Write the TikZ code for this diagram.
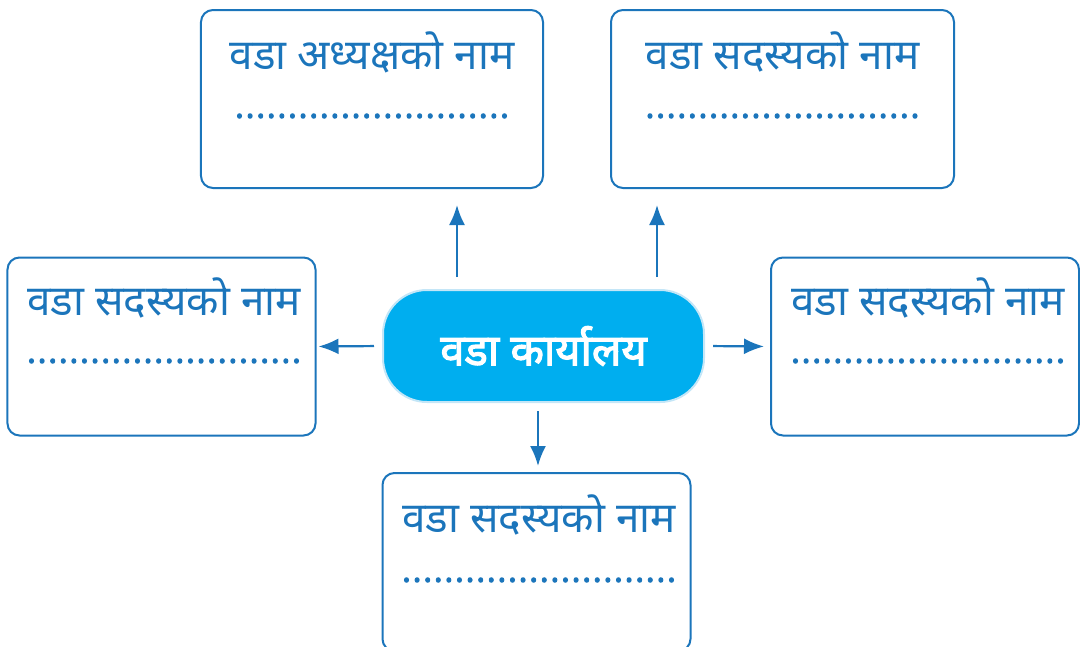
\documentclass[tikz,border=0pt]{standalone}
\usepackage{fontspec}
\setmainfont{Noto Sans}
\newfontfamily\deva[Script=Devanagari, AutoFakeBold=2.5]{Noto Sans}
\usepackage{tikz}
\usetikzlibrary{arrows.meta}

\definecolor{boxblue}{HTML}{1B75BB}
\definecolor{pillfill}{HTML}{00AEEF}
\definecolor{pillrim}{HTML}{C4E6F7}

\newcommand{\dotrow}{\hbox to 68.9mm{\xleaders\hbox to 2.65mm{\hss.\hss}\hfill}}

\tikzset{
  namebox/.style={draw=boxblue, line width=0.5mm, rounded corners=3mm,
    minimum width=77mm, minimum height=44.5mm},
  boxtitle/.style={text=boxblue, font=\deva\fontsize{30}{34}\selectfont},
  boxdots/.style={text=boxblue, font=\deva\bfseries\fontsize{24}{28}\selectfont},
  arr/.style={draw=boxblue, line width=0.55mm, -{Latex[length=5mm,width=4mm]}}
}

\begin{document}
\begin{tikzpicture}[x=0.25mm, y=-0.25mm]
  \useasboundingbox (0,0) rectangle (1080,646);

  % centre
  \node[fill=pillfill, draw=pillrim, line width=0.5mm, rounded corners=11mm,
    minimum width=80.25mm, minimum height=28mm, text=white,
    font=\deva\bfseries\fontsize{31}{35}\selectfont] (pill) at (543.5,346) {वडा कार्यालय};

  % boxes round it
  \node[namebox, minimum width=85.5mm] (top1) at (372,99) {};
  \node[namebox, minimum width=85.75mm] (top2) at (782.5,99) {};
  \node[namebox] (left) at (161.5,346.5) {};
  \node[namebox] (right) at (925,346.5) {};
  \node[namebox] (down) at (536.5,562) {};

  \node[boxtitle] (t1) at (372,52) {वडा अध्यक्षको नाम};
  \node[boxtitle] (t2) at (782.5,52) {वडा सदस्यको नाम};
  \node[boxtitle] (t3) at (164,298) {वडा सदस्यको नाम};
  \node[boxtitle] (t4) at (928,298) {वडा सदस्यको नाम};
  \node[boxtitle] (t5) at (539,515) {वडा सदस्यको नाम};

  \node[boxdots] (d1) at (372,116) {\dotrow};
  \node[boxdots] (d2) at (782.5,116) {\dotrow};
  \node[boxdots] (d3) at (164,361) {\dotrow};
  \node[boxdots] (d4) at (928,361) {\dotrow};
  \node[boxdots] (d5) at (539,580) {\dotrow};

  % arrows
  \coordinate (c1) at (457,0);
  \coordinate (c2) at (657,0);
  \coordinate (c5) at (538,0);
  \draw[arr, shorten <=3mm, shorten >=4mm] (pill.north -| c1) -- (top1.south -| c1);
  \draw[arr, shorten <=3mm, shorten >=4mm] (pill.north -| c2) -- (top2.south -| c2);
  \draw[arr, shorten <=2mm, shorten >=0.5mm] (pill.west) -- (left.east);
  \draw[arr, shorten <=2mm, shorten >=1.5mm] (pill.east) -- (right.west);
  \draw[arr, shorten <=2mm, shorten >=1.5mm] (pill.south -| c5) -- (down.north -| c5);
\end{tikzpicture}
\end{document}
